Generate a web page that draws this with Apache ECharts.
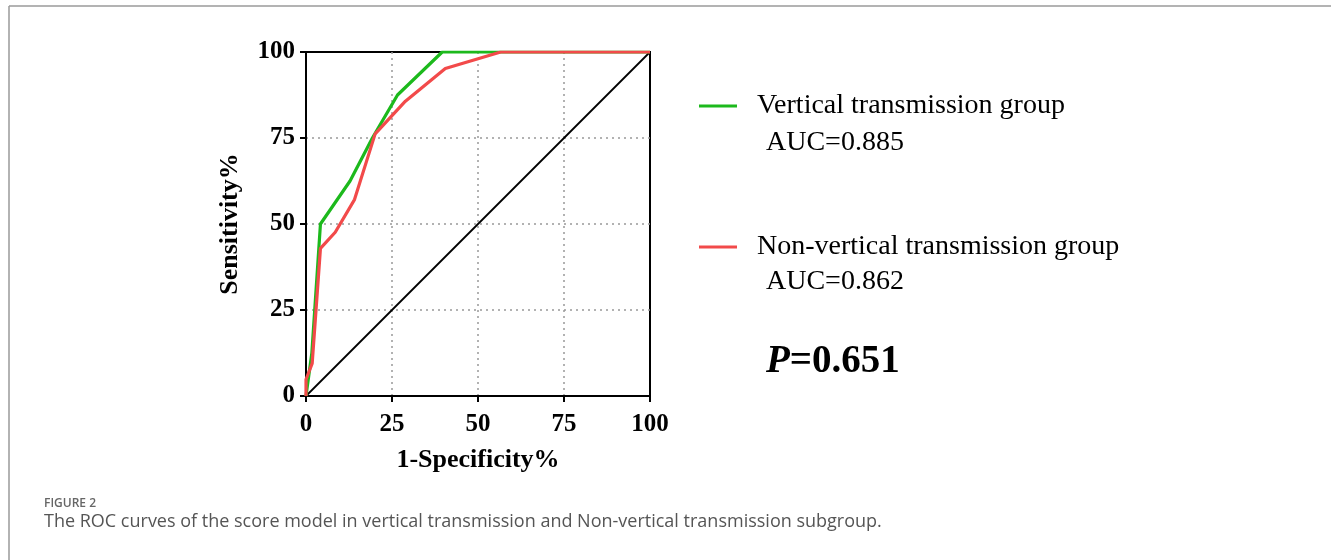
<!DOCTYPE html>
<html>
<head>
<meta charset="utf-8">
<title>ROC curves</title>
<script src="https://cdn.jsdelivr.net/npm/echarts@6/dist/echarts.min.js"></script>
<style>
  html, body { margin: 0; padding: 0; background: #fff; }
  #main { width: 1331px; height: 560px; }
</style>
</head>
<body>
<div id="main"></div>
<script>
  // ROC points, [1-specificity %, sensitivity %]
  var verticalPts = [[0, 0], [1.7, 12.5], [4.2, 50], [12.8, 62.5], [19.3, 75], [26.6, 87.5], [39.6, 100], [100, 100]];
  var nonVerticalPts = [[0, 0], [0, 4.8], [1.8, 9.5], [4.2, 42.9], [8.5, 47.6], [14.1, 57.1], [20.1, 76.2], [28.9, 85.7], [40.5, 95.2], [56.6, 100], [100, 100]];
  var refLine = [[0, 0], [100, 100]];

  var groupNames = ['Vertical transmission group', 'Non-vertical transmission group'];
  var aucLabels = ['AUC=0.885', 'AUC=0.862'];
  var pValue = '0.651';
  var tickValues = [0, 25, 50, 75, 100];

  var serif = '"Liberation Serif", "Times New Roman", serif';
  var green = '#1cb91c';
  var red = '#f24a4a';

  var chart = echarts.init(document.getElementById('main'));

  function axis(name, gap) {
    return {
      type: 'value',
      min: tickValues[0],
      max: tickValues[tickValues.length - 1],
      interval: 25,
      name: name,
      nameLocation: 'middle',
      nameGap: gap,
      nameTextStyle: { fontFamily: serif, fontWeight: 'bold', fontSize: 26, color: '#000' },
      axisLine: { show: true, lineStyle: { color: '#000', width: 2 } },
      axisTick: { show: true, inside: false, length: 6, lineStyle: { color: '#000', width: 2 } },
      axisLabel: { fontFamily: serif, fontWeight: 'bold', fontSize: 25, color: '#000', margin: 11 },
      splitLine: {
        show: true, showMinLine: false, showMaxLine: false,
        lineStyle: { color: '#999', width: 1.5, type: [2, 4] }
      }
    };
  }

  var xAxis = axis('1-Specificity%', 51);
  xAxis.axisLabel.margin = 16;
  var yAxis = axis('Sensitivity%', 63);
  yAxis.nameRotate = 90;

  var legendText = { fontFamily: serif, fontSize: 28, color: '#000', padding: [0, 0, 0, 15] };

  var option = {
    animation: false,
    backgroundColor: '#fff',
    grid: {
      left: 306, right: 681, top: 52, bottom: 164,
      show: true, borderColor: '#000', borderWidth: 2
    },
    xAxis: xAxis,
    yAxis: yAxis,
    legend: [
      {
        data: [groupNames[0]], left: 699, top: 92, padding: 0, orient: 'vertical',
        itemWidth: 38, itemHeight: 3, icon: 'rect', textStyle: legendText
      },
      {
        data: [groupNames[1]], left: 699, top: 233, padding: 0, orient: 'vertical',
        itemWidth: 38, itemHeight: 3, icon: 'rect', textStyle: legendText
      }
    ],
    series: [
      {
        name: 'Reference', type: 'line', data: refLine, symbol: 'none',
        lineStyle: { color: '#000', width: 1.8 }, silent: true
      },
      {
        name: groupNames[0], type: 'line', data: verticalPts, symbol: 'none',
        itemStyle: { color: green }, lineStyle: { color: green, width: 3.2 }
      },
      {
        name: groupNames[1], type: 'line', data: nonVerticalPts, symbol: 'none',
        itemStyle: { color: red }, lineStyle: { color: red, width: 3.2 }
      }
    ],
    graphic: [
      // figure frame
      { type: 'line', shape: { x1: 9, y1: 6, x2: 1331, y2: 6 }, style: { stroke: '#9a9a9a', lineWidth: 1.5 } },
      { type: 'line', shape: { x1: 9, y1: 6, x2: 9, y2: 560 }, style: { stroke: '#9a9a9a', lineWidth: 1.5 } },
      { type: 'text', x: 766, y: 143, style: { text: aucLabels[0], font: '28px ' + serif, fill: '#000', verticalAlign: 'middle' } },
      { type: 'text', x: 766, y: 282, style: { text: aucLabels[1], font: '28px ' + serif, fill: '#000', verticalAlign: 'middle' } },
      {
        type: 'text', x: 766, y: 362,
        style: {
          text: '{p|P}{v|=' + pValue + '}',
          verticalAlign: 'middle',
          rich: {
            p: { fontFamily: serif, fontSize: 39, fontWeight: 'bold', fontStyle: 'italic', fill: '#000' },
            v: { fontFamily: serif, fontSize: 39, fontWeight: 'bold', fill: '#000' }
          }
        }
      },
      { type: 'text', x: 44, y: 504, style: { text: 'FIGURE 2', font: '600 12px "Open Sans", sans-serif', fill: '#666', verticalAlign: 'middle' } },
      { type: 'text', x: 44, y: 522, style: { text: 'The ROC curves of the score model in vertical transmission and Non-vertical transmission subgroup.', font: '18px "Open Sans", sans-serif', fill: '#555', verticalAlign: 'middle' } }
    ]
  };

  chart.setOption(option);
</script>
</body>
</html>
